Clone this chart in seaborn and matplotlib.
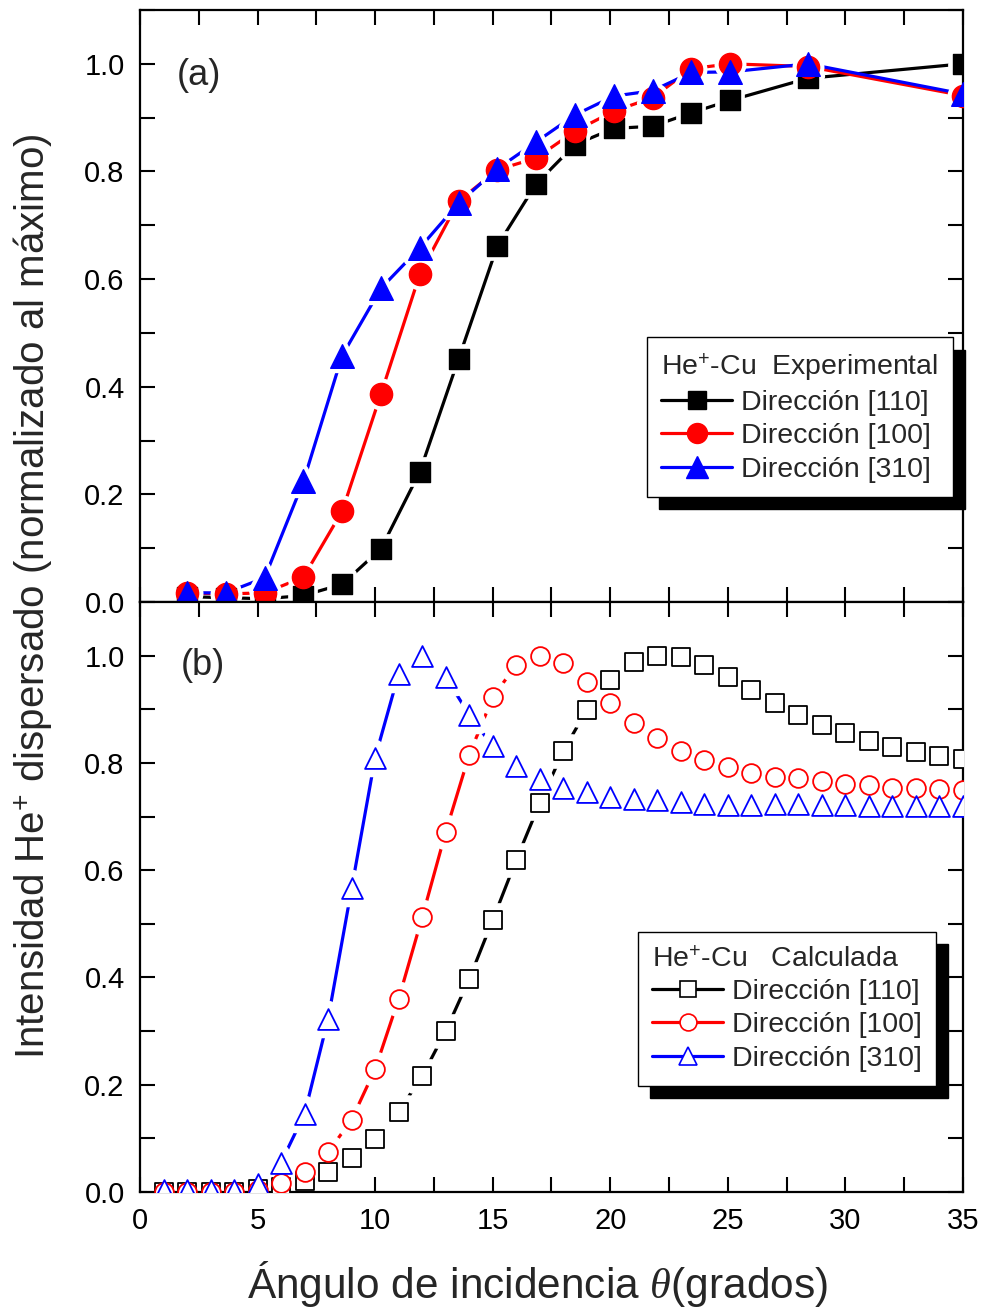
import matplotlib
matplotlib.use("Agg")
import matplotlib.pyplot as plt
from matplotlib.lines import Line2D
from matplotlib.ticker import MultipleLocator, FormatStrFormatter
import seaborn as sns

# ---------------------------------------------------------------------------
# (a) Experimental He+ intensity vs incidence angle (normalised to maximum)
exp_angle = [2.0, 3.65, 5.3, 6.95, 8.6, 10.25, 11.9, 13.55, 15.2, 16.85,
             18.5, 20.15, 21.8, 23.45, 25.1, 28.4, 35.0]
exp_110 = [0.010, 0.008, 0.006, 0.012, 0.033, 0.099, 0.242, 0.452, 0.662, 0.777,
           0.850, 0.880, 0.884, 0.909, 0.932, 0.973, 1.000]
exp_100 = [0.017, 0.015, 0.017, 0.046, 0.169, 0.387, 0.609, 0.745, 0.803, 0.825,
           0.875, 0.912, 0.937, 0.991, 1.000, 0.995, 0.941]
exp_310 = [0.017, 0.017, 0.045, 0.224, 0.458, 0.583, 0.658, 0.741, 0.805, 0.855,
           0.905, 0.940, 0.950, 0.984, 0.985, 1.000, 0.944]

# (b) Calculated He+ intensity, one value per degree
calc_angle = list(range(1, 36))
calc_110 = [0.0, 0.0, 0.0, 0.0, 0.005, 0.010, 0.020, 0.038, 0.063, 0.099,
            0.150, 0.216, 0.300, 0.397, 0.507, 0.619, 0.725, 0.822, 0.899, 0.954,
            0.988, 1.000, 0.998, 0.982, 0.960, 0.935, 0.911, 0.889, 0.871, 0.855,
            0.841, 0.830, 0.821, 0.813, 0.807]
calc_100 = [0.0, 0.0, 0.0, 0.0, 0.004, 0.016, 0.038, 0.074, 0.135, 0.229,
            0.360, 0.512, 0.671, 0.815, 0.922, 0.983, 1.000, 0.986, 0.951, 0.911,
            0.875, 0.846, 0.823, 0.806, 0.792, 0.781, 0.774, 0.771, 0.767, 0.761,
            0.758, 0.754, 0.753, 0.752, 0.750]
calc_310 = [0.003, 0.003, 0.003, 0.003, 0.015, 0.055, 0.146, 0.323, 0.566, 0.810,
            0.966, 1.000, 0.960, 0.890, 0.831, 0.795, 0.770, 0.753, 0.745, 0.736,
            0.732, 0.730, 0.727, 0.723, 0.722, 0.722, 0.724, 0.724, 0.722, 0.721,
            0.719, 0.719, 0.719, 0.719, 0.720]

series_labels = ["Dirección [110]", "Dirección [100]", "Dirección [310]"]
title_exp = "He$^{+}$-Cu  Experimental"
title_calc = "He$^{+}$-Cu   Calculada"
xlabel = r"Ángulo de incidencia $\theta$(grados)"
ylabel = "Intensidad He$^{+}$ dispersado (normalizado al máximo)"

# ---------------------------------------------------------------------------
sns.set_style("ticks")
plt.rcParams["font.family"] = ["Liberation Sans", "DejaVu Sans"]
plt.rcParams["mathtext.fontset"] = "custom"
plt.rcParams["mathtext.rm"] = "Liberation Sans"
plt.rcParams["mathtext.it"] = "Liberation Serif:italic"
plt.rcParams["mathtext.bf"] = "Liberation Sans:bold"

colors = ["#000000", "#ff0000", "#0000ff"]
markers = ["s", "o", "^"]
ms_exp = [14.0, 16.0, 17.0]
ms_calc = [12.5, 13.5, 15.0]
LW = 2.3
GAP_EXP = 7.0
GAP_CALC = 12.0

fig = plt.figure(figsize=(9.85, 13.11), dpi=100)
ax_top = fig.add_axes([0.14213, 0.54081, 0.83553, 0.45156])
ax_bot = fig.add_axes([0.14213, 0.09077, 0.83553, 0.45004])


def draw_series(ax, x, y, color, marker, ms, filled, gap):
    # connecting line
    sns.lineplot(x=x, y=y, ax=ax, color=color, lw=LW, zorder=2.1)
    # white halo leaves a small gap between line and symbol
    sns.scatterplot(x=x, y=y, ax=ax, marker=marker, s=ms ** 2, color="white",
                    edgecolor="white", linewidth=gap, zorder=2.2, legend=False)
    # symbols
    sns.scatterplot(x=x, y=y, ax=ax, marker=marker, s=ms ** 2,
                    color=color if filled else "white", edgecolor=color,
                    linewidth=1.0 if filled else 1.3, zorder=3, legend=False)


for ys, c, m, ms in zip([exp_110, exp_100, exp_310], colors, markers, ms_exp):
    draw_series(ax_top, exp_angle, ys, c, m, ms, True, GAP_EXP)
for ys, c, m, ms in zip([calc_110, calc_100, calc_310], colors, markers, ms_calc):
    draw_series(ax_bot, calc_angle, ys, c, m, ms, False, GAP_CALC)

for ax in (ax_top, ax_bot):
    ax.set_xlim(0, 35)
    ax.set_ylim(0, 1.1)
    ax.xaxis.set_major_locator(MultipleLocator(5))
    ax.xaxis.set_minor_locator(MultipleLocator(2.5))
    ax.yaxis.set_major_locator(MultipleLocator(0.2))
    ax.yaxis.set_minor_locator(MultipleLocator(0.1))
    ax.yaxis.set_major_formatter(FormatStrFormatter("%.1f"))
    ax.tick_params(which="both", direction="in", top=True, right=True,
                   length=11, width=1.5, color="black")
    ax.tick_params(axis="both", which="major", labelsize=21, labelcolor="black")
    ax.tick_params(axis="y", pad=11)
    ax.tick_params(axis="x", pad=11)
    ax.set_xlabel("")
    ax.set_ylabel("")
    for sp in ax.spines.values():
        sp.set_linewidth(1.6)
        sp.set_color("black")

ax_top.tick_params(labelbottom=False)

ax_top.text(0.045, 0.89, "(a)", transform=ax_top.transAxes, fontsize=26,
            ha="left", va="center")
ax_bot.text(0.05, 0.893, "(b)", transform=ax_bot.transAxes, fontsize=26,
            ha="left", va="center")


def add_legend(ax, title, filled, sizes, anchor):
    handles = [Line2D([], [], color=c, lw=LW, marker=m, ms=s * 0.9,
                      mfc=c if filled else "white", mec=c, mew=1.0 if filled else 1.2)
               for c, m, s in zip(colors, markers, sizes)]
    leg = ax.legend(handles, series_labels, title=title, loc="upper left",
                    bbox_to_anchor=anchor, frameon=True, fancybox=False,
                    edgecolor="black", framealpha=1, fontsize=20.5,
                    title_fontsize=20.5, alignment="left", handlelength=2.5,
                    handletextpad=0.3, labelspacing=0.25, borderpad=0.5,
                    borderaxespad=0,
                    shadow={"ox": 9, "oy": -9, "facecolor": "black",
                            "edgecolor": "black", "alpha": 1})
    leg.get_frame().set_linewidth(1.0)
    return leg


add_legend(ax_top, title_exp, True, ms_exp, (0.616, 0.4476))
add_legend(ax_bot, title_calc, False, ms_calc, (0.605, 0.4407))

fig.text(33 / 985, 1 - 596 / 1311, ylabel, rotation=90, fontsize=29,
         ha="center", va="center")
fig.text(537 / 985, 1 - 1284 / 1311, xlabel, fontsize=30.5,
         ha="center", va="center")

fig.savefig("out.png", dpi=100)
